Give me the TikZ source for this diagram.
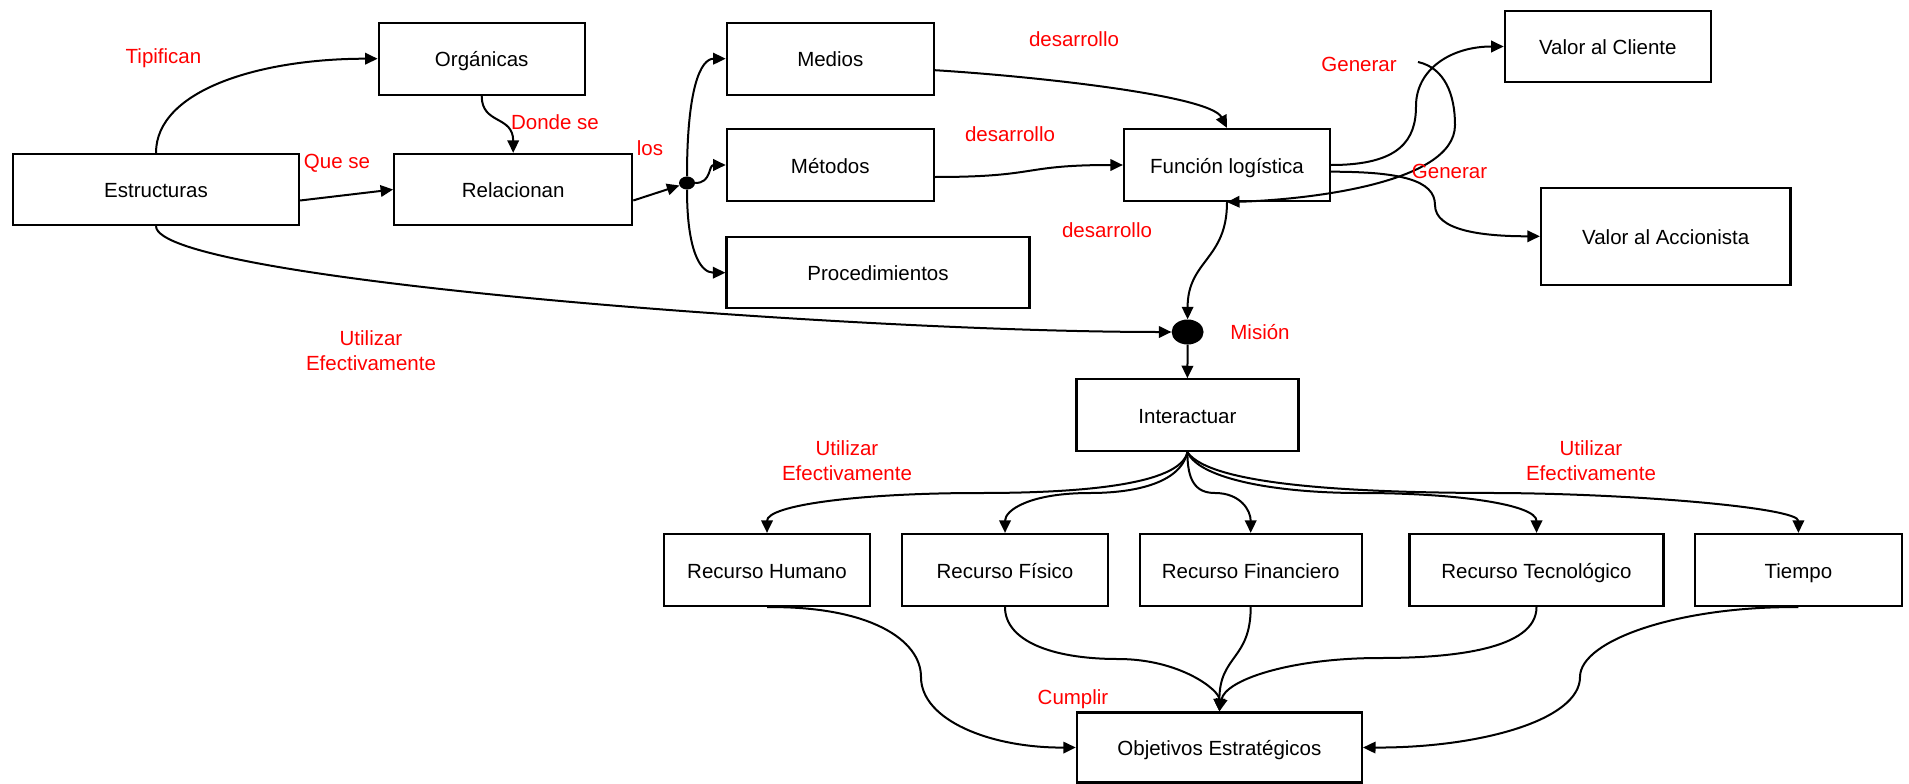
\documentclass[tikz,border=0pt]{standalone}
\usepackage{fontspec}
\setmainfont{Liberation Sans}
\usetikzlibrary{arrows.meta,shapes.geometric,calc}
\begin{document}
\begin{tikzpicture}[x=1pt,y=-1pt,
  every node/.style={font=\fontsize{20.5}{25}\selectfont},
  nbox/.style={draw, line width=2.2pt, inner sep=0pt, anchor=center, text height=16pt, text depth=0pt},
  lbl/.style={text=red, align=center, inner sep=0pt},
  junc/.style={ellipse, fill=black, inner sep=0pt},
  conn/.style={line width=2pt, -{Triangle[length=12.5pt,width=11.5pt]}},
]
\useasboundingbox (0,0) rectangle (1909,784);
\fill[white] (0,0) rectangle (1909,784);

% boxes
\node[nbox, minimum width=286pt, minimum height=71pt] (estr) at (156,189.5) {Estructuras};
\node[nbox, minimum width=206pt, minimum height=72pt] (org) at (481.7,58.7) {Orgánicas};
\node[nbox, minimum width=238pt, minimum height=71pt] (rel) at (513.2,189.5) {Relacionan};
\node[nbox, minimum width=207pt, minimum height=72pt] (medios) at (830.3,58.7) {Medios};
\node[nbox, minimum width=207pt, minimum height=72pt] (metodos) at (830.3,165) {Métodos};
\node[nbox, minimum width=303pt, minimum height=71pt] (proc) at (878,272.7) {Procedimientos};
\node[nbox, minimum width=206pt, minimum height=72pt] (func) at (1227,165) {Función logística};
\node[nbox, minimum width=206pt, minimum height=71.6pt] (vcli) at (1607.8,46.5) {Valor al Cliente};
\node[nbox, minimum width=249.5pt, minimum height=97.3pt] (vacc) at (1665.7,236.3) {Valor al Accionista};
\node[nbox, minimum width=222pt, minimum height=71.7pt] (inter) at (1187.4,415.2) {Interactuar};
\node[nbox, minimum width=206.5pt, minimum height=72pt] (rhum) at (767,570) {Recurso Humano};
\node[nbox, minimum width=206pt, minimum height=72pt] (rfis) at (1005,570) {Recurso Físico};
\node[nbox, minimum width=222pt, minimum height=72pt] (rfin) at (1250.7,570) {Recurso Financiero};
\node[nbox, minimum width=254pt, minimum height=72pt] (rtec) at (1536.5,570) {Recurso Tecnológico};
\node[nbox, minimum width=206.6pt, minimum height=72pt] (tiempo) at (1798.4,570) {Tiempo};
\node[nbox, minimum width=285pt, minimum height=70pt] (obj) at (1219.4,747.5) {Objetivos Estratégicos};

% junction dots
\node[junc, minimum width=16pt, minimum height=13pt] (d1) at (687,183) {};
\node[junc, minimum width=32pt, minimum height=25pt] (d2) at (1187.6,332) {};

% upper connectors
\draw[conn] (estr.north) .. controls (156,90) and (260,58.7) .. (org.west);
\draw[conn] ($(estr.east)+(0,11)$) -- (rel.west);
\draw[conn] (org.south) .. controls (481.7,125) and (513.2,115) .. (rel.north);
\draw[conn] ($(rel.east)+(0,11)$) -- (d1);
\draw[conn] (d1.north) .. controls (687,90) and (700,58.7) .. (medios.west);
\draw[conn] (d1.east) .. controls (712,183) and (708,165) .. (metodos.west);
\draw[conn] (d1.south) .. controls (687,250) and (700,272.7) .. (proc.west);
\draw[conn] ($(medios.east)+(0,11.5)$) .. controls (1030,76) and (1210,95) .. (func.north);
\draw[conn] ($(metodos.east)+(0,12)$) .. controls (1040,177) and (1020,165) .. (func.west);
\draw[conn] (func.south) .. controls (1227,260) and (1187.6,260) .. (d2.north);
\draw[conn] (estr.south) .. controls (156,280) and (850,332) .. (d2.west);
\draw[conn] (d2.south) -- (inter.north);

% value connectors
\draw[conn] (func.east) .. controls (1400,165) and (1416,140) .. (1416,106)
  .. controls (1416,70) and (1450,46.5) .. (vcli.west);
\coordinate (gstart) at (1418,62);
\draw[conn] (gstart) .. controls (1445,68) and (1455,95) .. (1455,125)
  .. controls (1455,185) and (1300,200) .. (func.south);
\draw[conn] ($(func.east)+(0,6.7)$) .. controls (1400,171.7) and (1435,180) .. (1435,205)
  .. controls (1435,230) and (1480,236.3) .. (vacc.west);

% resources
\draw[conn] (inter.south) .. controls (1180,485) and (1080,493) .. (980,493)
  .. controls (860,493) and (767,505) .. (rhum.north);
\draw[conn] (inter.south) .. controls (1180,485) and (1130,493) .. (1090,493)
  .. controls (1030,493) and (1005,510) .. (rfis.north);
\draw[conn] (inter.south) .. controls (1187.4,480) and (1195,493) .. (1215,493)
  .. controls (1240,493) and (1250.7,510) .. (rfin.north);
\draw[conn] (inter.south) .. controls (1200,480) and (1280,493) .. (1360,493)
  .. controls (1460,493) and (1536.5,505) .. (rtec.north);
\draw[conn] (inter.south) .. controls (1210,485) and (1350,493) .. (1500,493)
  .. controls (1640,494) and (1798.4,508) .. (tiempo.north);

% towards the objectives
\draw[conn] (rhum.south) .. controls (870,606) and (921,640) .. (921,677)
  .. controls (921,720) and (990,748) .. (obj.west);
\draw[conn] (rfis.south) .. controls (1005,640) and (1050,659) .. (1118,659)
  .. controls (1180,659) and (1219.4,690) .. (obj.north);
\draw[conn] (rfin.south) .. controls (1250.7,660) and (1219.4,655) .. (obj.north);
\draw[conn] (rtec.south) .. controls (1536.5,650) and (1450,658) .. (1380,658)
  .. controls (1290,658) and (1225,680) .. (obj.north);
\draw[conn] (tiempo.south) .. controls (1680,606) and (1580,640) .. (1580,677)
  .. controls (1580,720) and (1480,748) .. (obj.east);

% labels
\node[lbl] (l1) at (163.5,58.5) {Tipifican};
\node[lbl] (l2) at (337,163.5) {Que se};
\node[lbl] (l3) at (555,122) {Donde se};
\node[lbl] (l4) at (650,148) {los};
\node[lbl] (l5) at (371,350.5) {Utilizar\\Efectivamente};
\node[lbl] (l6) at (1074,39) {desarrollo};
\node[lbl] (l7) at (1010,134) {desarrollo};
\node[lbl] (l8) at (1107,230) {desarrollo};
\node[lbl] (l9) at (1359,64) {Generar};
\node[lbl] (l10) at (1449.5,171) {Generar};
\node[lbl] (l11) at (1260,332) {Misión};
\node[lbl] (l12) at (847,461) {Utilizar\\Efectivamente};
\node[lbl] (l13) at (1591,461) {Utilizar\\Efectivamente};
\node[lbl] (l14) at (1073,699) {Cumplir};
\end{tikzpicture}
\end{document}
